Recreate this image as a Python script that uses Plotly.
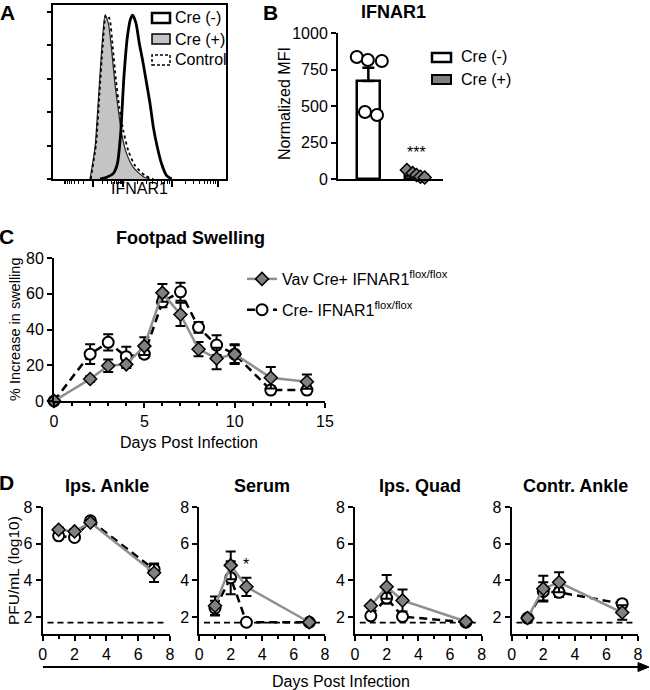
import math
import numpy as np
import plotly.graph_objects as go

W, H = 650, 690
FONT = "Liberation Sans, Arial, sans-serif"


def fx(p):
    return p / W


def fy(p):
    return 1 - p / H


# ---------------- Panel A: flow histograms (channel, % of max) ----------------
a_crepos_x = [214, 243, 262, 281, 301, 320, 339, 358, 378, 397, 426, 464, 522, 561]
a_crepos_y = [0, 19, 47, 77, 98, 93, 77, 57, 41, 27, 15, 7, 1.4, 0]
a_ctrl_x = [218, 249, 268, 287, 306, 326, 345, 364, 383, 406, 435, 474, 532, 580]
a_ctrl_y = [0, 21, 50, 79, 98, 96, 79, 59, 43, 29, 17, 8, 2, 0]
a_creneg_x = [272, 310, 349, 372, 391, 410, 430, 449, 461, 480, 499, 518, 538, 561, 580, 603, 628, 657, 686]
a_creneg_y = [0, 1, 3.4, 9, 27, 61, 85, 96, 98, 93, 81, 71, 59, 45, 31, 19, 9, 2, 0]
a_legend = ["Cre (-)", "Cre (+)", "Control"]

# ---------------- Panel B: IFNAR1 normalized MFI ----------------
b_groups = ["Cre (-)", "Cre (+)"]
b_creneg = [836, 815, 808, 459, 438]
b_crepos = [62, 40, 27, 15, 10]
b_jitter_neg = [-0.24, -0.01, 0.28, -0.07, 0.18]
b_jitter_pos = [-0.2, -0.08, 0.0, 0.08, 0.17]

# ---------------- Panel C: footpad swelling ----------------
c_days = [0, 2, 3, 4, 5, 6, 7, 8, 9, 10, 12, 14]
c_vav = [0, 12.3, 19.7, 20.5, 30.7, 60.5, 48.4, 29, 23.8, 26.2, 13, 10.8]
c_vav_err = [0, 1.5, 3.5, 2, 5, 5, 6.5, 4, 6, 5, 6, 4]
c_cre = [0, 26.2, 32.8, 24.8, 26.2, 55.5, 61.1, 41.2, 31.3, 26.2, 6.1, 6.1]
c_cre_err = [0, 5.5, 4.5, 5.5, 2, 3, 5, 3, 5.5, 5.5, 2, 2]
c_names = ["Vav Cre+ IFNAR1<sup>flox/flox</sup>", "Cre- IFNAR1<sup>flox/flox</sup>"]

# ---------------- Panel D: viral titers ----------------
d_days = [1, 2, 3, 7]
d_titles = ["Ips. Ankle", "Serum", "Ips. Quad", "Contr. Ankle"]
d_vav = [
    [6.76, 6.67, 7.16, 4.42],
    [2.62, 4.82, 3.65, 1.72],
    [2.62, 3.65, 2.91, 1.76],
    [1.95, 3.55, 3.90, 2.25],
]
d_vav_err = [
    [0.12, 0.12, 0.1, 0.5],
    [0.5, 0.75, 0.5, 0.0],
    [0.1, 0.65, 0.6, 0.0],
    [0.1, 0.7, 0.55, 0.4],
]
d_cre = [
    [6.43, 6.34, 7.25, 4.60],
    [2.49, 4.14, 1.72, 1.72],
    [2.07, 3.04, 2.03, 1.72],
    [1.95, 3.40, 3.35, 2.73],
]
d_cre_err = [
    [0.1, 0.1, 0.1, 0.3],
    [0.4, 0.9, 0.0, 0.0],
    [0.1, 0.3, 0.1, 0.0],
    [0.1, 0.5, 0.25, 0.2],
]
d_lod = 1.7
d_lod_span = [0.3, 7.7]

# ---------------- styles ----------------
GRAY_D = "#808080"
GRAY_L = "#8f8f8f"
vav_marker = dict(symbol="diamond", size=10, color=GRAY_D, line=dict(color="black", width=1.5))
cre_marker = dict(symbol="circle", size=11, color="white", line=dict(color="black", width=2))
vav_line = dict(color=GRAY_L, width=2.5)
cre_line = dict(color="black", width=2.5, dash="8px,5px")


def err(arr):
    return dict(type="data", array=arr, color="black", thickness=2, width=5)


fig = go.Figure()

# Panel A traces
fig.add_trace(go.Scatter(x=a_crepos_x, y=a_crepos_y, mode="lines", fill="tozeroy",
                         fillcolor="#c4c4c4", line=dict(color="#222", width=1.2, shape="spline", smoothing=0.6),
                         xaxis="x", yaxis="y", showlegend=False))
fig.add_trace(go.Scatter(x=a_ctrl_x, y=a_ctrl_y, mode="lines",
                         line=dict(color="black", width=1.8, dash="dot", shape="spline", smoothing=0.6),
                         xaxis="x", yaxis="y", showlegend=False))
fig.add_trace(go.Scatter(x=a_creneg_x, y=a_creneg_y, mode="lines",
                         line=dict(color="black", width=2.8, shape="spline", smoothing=0.6),
                         xaxis="x", yaxis="y", showlegend=False))

# Panel B traces
neg_mean = float(np.mean(b_creneg))
pos_mean = float(np.mean(b_crepos))
neg_sem = float(np.std(b_creneg, ddof=1) / math.sqrt(len(b_creneg)))
pos_sem = float(np.std(b_crepos, ddof=1) / math.sqrt(len(b_crepos)))
fig.add_trace(go.Bar(x=[0, 1], y=[neg_mean, pos_mean], width=0.47,
                     marker=dict(color=["white", GRAY_D], line=dict(color="black", width=2.5)),
                     error_y=dict(type="data", symmetric=False, array=[neg_sem, pos_sem], arrayminus=[0, 0],
                                  color="black", thickness=2.5, width=6),
                     xaxis="x2", yaxis="y2", showlegend=False))
fig.add_trace(go.Scatter(x=[0 + j for j in b_jitter_neg], y=b_creneg, mode="markers",
                         marker=dict(symbol="circle", size=12, color="white", line=dict(color="black", width=2)),
                         xaxis="x2", yaxis="y2", showlegend=False, cliponaxis=False))
fig.add_trace(go.Scatter(x=[1 + j for j in b_jitter_pos], y=b_crepos, mode="markers",
                         marker=dict(symbol="diamond", size=10, color=GRAY_D, line=dict(color="black", width=1.5)),
                         xaxis="x2", yaxis="y2", showlegend=False, cliponaxis=False))

# Panel C traces (Cre- drawn first so Vav sits on top; legend order set by rank)
fig.add_trace(go.Scatter(x=c_days, y=c_cre, mode="lines+markers", name=c_names[1], legendgroup="cre",
                         legendrank=2, line=cre_line, marker=cre_marker, error_y=err(c_cre_err),
                         xaxis="x3", yaxis="y3", cliponaxis=False, showlegend=True))
fig.add_trace(go.Scatter(x=c_days, y=c_vav, mode="lines+markers", name=c_names[0], legendgroup="vav",
                         legendrank=1, line=vav_line, marker=vav_marker, error_y=err(c_vav_err),
                         xaxis="x3", yaxis="y3", cliponaxis=False, showlegend=True))

# Panel D traces
for i in range(4):
    xa, ya = f"x{4 + i}", f"y{4 + i}"
    fig.add_trace(go.Scatter(x=d_lod_span, y=[d_lod, d_lod], mode="lines",
                             line=dict(color="black", width=1.6, dash="6px,4px"),
                             xaxis=xa, yaxis=ya, showlegend=False))
    fig.add_trace(go.Scatter(x=d_days, y=d_cre[i], mode="lines+markers",
                             line=cre_line, marker=cre_marker, error_y=err(d_cre_err[i]),
                             xaxis=xa, yaxis=ya, cliponaxis=False, showlegend=False))
    fig.add_trace(go.Scatter(x=d_days, y=d_vav[i], mode="lines+markers",
                             line=vav_line, marker=vav_marker, error_y=err(d_vav_err[i]),
                             xaxis=xa, yaxis=ya, cliponaxis=False, showlegend=False))

# ---------------- axes ----------------
base = dict(showline=True, linecolor="black", linewidth=2, ticks="outside", tickcolor="black",
            tickwidth=2, ticklen=5, showgrid=False, zeroline=False, automargin=False,
            tickfont=dict(size=16, color="black", family=FONT))

# Panel A axes: biexponential-like ticks
a_major = [231, 405, 688, 954]
a_minor = []
for k in range(2, 10):
    a_minor.append(231 - 174 * math.log10(k))
    a_minor.append(231 + 174 * math.log10(k))
    a_minor.append(405 + 283 * math.log10(k))
    a_minor.append(688 + 266 * math.log10(k))
a_minor = [v for v in a_minor if 0 < v < 1000]
layout = dict(
    xaxis=dict(base, domain=[fx(53), fx(226)], range=[0, 1000], anchor="y", mirror=True,
               tickmode="array", tickvals=a_major, showticklabels=False, ticklen=6, tickwidth=1.5,
               minor=dict(tickmode="array", tickvals=a_minor, ticks="outside", ticklen=3,
                          tickwidth=1, tickcolor="black")),
    yaxis=dict(base, domain=[fy(179), fy(5)], range=[0, 104], anchor="x", mirror=True,
               tickmode="array", tickvals=[0, 20, 40, 60, 80, 100], showticklabels=False,
               ticklen=4, tickwidth=1.5),
    xaxis2=dict(base, domain=[fx(338), fx(443)], range=[-0.63, 1.55], anchor="y2",
                ticks="", showticklabels=False),
    yaxis2=dict(base, domain=[fy(179), fy(33)], range=[0, 1000], anchor="x2",
                tickmode="array", tickvals=[0, 250, 500, 750, 1000]),
    xaxis3=dict(base, domain=[fx(54), fx(325)], range=[0, 15], anchor="y3",
                tickmode="array", tickvals=[0, 5, 10, 15],
                minor=dict(dtick=1, ticks="outside", ticklen=3, tickwidth=1.5, tickcolor="black")),
    yaxis3=dict(base, domain=[fy(401), fy(258)], range=[0, 80], anchor="x3",
                tickmode="array", tickvals=[0, 20, 40, 60, 80]),
)
d_x = [(42.7, 170), (199.3, 325), (355, 481.7), (511.7, 638)]
for i, (l, r) in enumerate(d_x):
    n = 4 + i
    layout[f"xaxis{n}"] = dict(base, domain=[fx(l), fx(r)], range=[0, 8], anchor=f"y{n}",
                               tickmode="array", tickvals=[0, 2, 4, 6, 8],
                               minor=dict(tickmode="array", tickvals=[1, 3, 5, 7], ticks="outside",
                                          ticklen=3, tickwidth=1.5, tickcolor="black"))
    layout[f"yaxis{n}"] = dict(base, domain=[fy(634), fy(507)], range=[1.08, 8], anchor=f"x{n}",
                               tickmode="array", tickvals=[2, 4, 6, 8])

# ---------------- annotations & shapes ----------------
ann = []


def txt(x, y, s, size=16, bold=False, angle=0, xanchor="center"):
    ann.append(dict(x=fx(x), y=fy(y), xref="paper", yref="paper", text=f"<b>{s}</b>" if bold else s,
                    showarrow=False, textangle=angle, xanchor=xanchor, yanchor="middle",
                    font=dict(size=size, color="black", family=FONT)))


# panel letters
txt(7, 12, "A", 21, True)
txt(270, 12, "B", 21, True)
txt(6, 236, "C", 21, True)
txt(6, 482, "D", 21, True)
# titles
txt(393, 12, "IFNAR1", 18, True)
txt(190, 238, "Footpad Swelling", 18, True)
for t, cx in zip(d_titles, [107, 262, 420, 575]):
    txt(cx, 486, t, 18, True)
# axis titles
txt(139.5, 189, "IFNAR1", 16)
txt(285, 104, "Normalized MFI", 16, angle=-90)
txt(15, 330, "% Increase in swelling", 14.5, angle=-90)
txt(189, 442, "Days Post Infection", 16)
txt(13, 571, "PFU/mL (log10)", 15.5, angle=-90)
txt(341.5, 681, "Days Post Infection", 16)
# legend texts A and B
for s, yy in zip(a_legend, [18, 39, 60]):
    txt(173, yy, s, 16, xanchor="left")
for s, yy in zip(b_groups, [57, 79]):
    txt(459, yy, s, 16, xanchor="left")
# significance stars
ann.append(dict(x=1, y=180, xref="x2", yref="y2", text="***", showarrow=False,
                font=dict(size=16, color="black", family=FONT)))
ann.append(dict(x=3, y=4.85, xref="x5", yref="y5", text="*", showarrow=False,
                font=dict(size=16, color="black", family=FONT)))

shapes = []


def box(x0, y0, x1, y1, fill, lw, dash="solid"):
    shapes.append(dict(type="rect", xref="paper", yref="paper", x0=fx(x0), x1=fx(x1), y0=fy(y1), y1=fy(y0),
                       fillcolor=fill, line=dict(color="black", width=lw, dash=dash)))


box(152, 13, 170, 23, "white", 2.5)
box(152, 34, 170, 44, "#c4c4c4", 1.5)
box(152, 55, 170, 65, "white", 1.5, "3px,2px")
box(432, 53, 451, 62, "white", 2.5)
box(432, 75, 451, 84, GRAY_D, 2)
# bottom arrow: shaft + head
shapes.append(dict(type="line", xref="paper", yref="paper", x0=fx(43), x1=fx(640), y0=fy(667), y1=fy(667),
                   line=dict(color="black", width=1.8)))
shapes.append(dict(type="path", xref="paper", yref="paper",
                   path=f"M {fx(638)},{fy(662.5)} L {fx(649)},{fy(667)} L {fx(638)},{fy(671.5)} Z",
                   fillcolor="black", line=dict(color="black", width=1)))

fig.update_layout(
    **layout,
    width=W, height=H, autosize=False,
    margin=dict(l=0, r=0, t=0, b=0, pad=0, autoexpand=False),
    paper_bgcolor="white", plot_bgcolor="white",
    font=dict(family=FONT, color="black", size=16),
    annotations=ann, shapes=shapes,
    bargap=0,
    legend=dict(x=fx(242), y=fy(262), xanchor="left", yanchor="top", traceorder="grouped",
                bgcolor="rgba(0,0,0,0)", font=dict(size=16, color="black", family=FONT),
                itemwidth=30, tracegroupgap=7),
)

fig.write_html("out.html", config={"displayModeBar": False},
               post_script="document.body.style.margin='0px';")
